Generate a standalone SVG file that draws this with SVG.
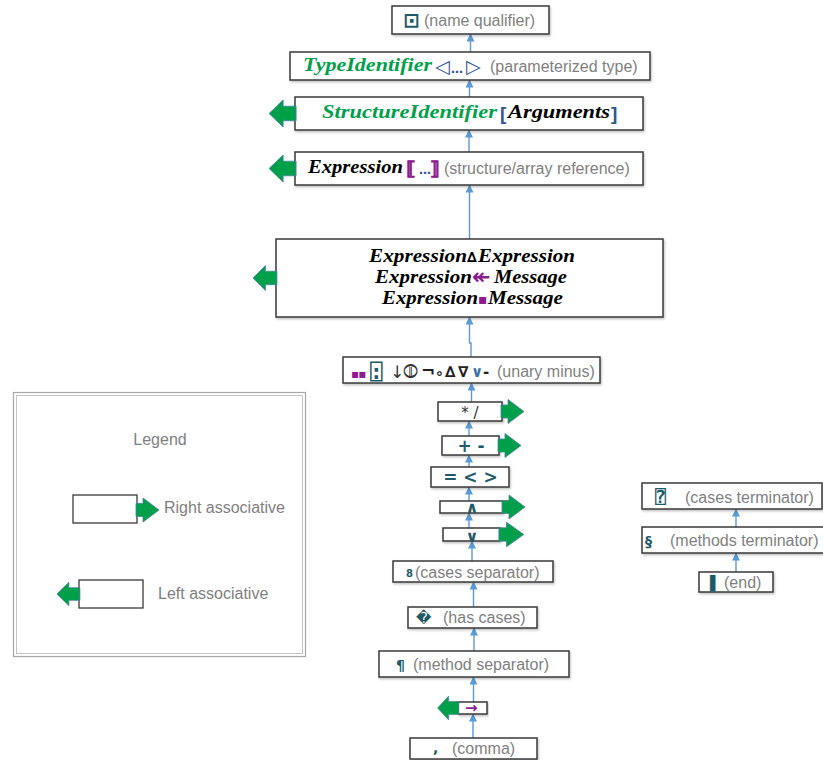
<svg xmlns="http://www.w3.org/2000/svg" width="823" height="760" viewBox="0 0 823 760">
<style>
.box{fill:#fff;stroke:#3a3a3a;stroke-width:1.5;filter:url(#sh)}
.lbl{font-family:"Liberation Sans",Arial,sans-serif;font-size:16px;fill:#7f7f7f}
.scr{font-family:"Liberation Serif","Times New Roman",serif;font-weight:bold;font-style:italic;font-size:19px;fill:#000}
.grn{fill:#00a04a}
.sym{font-family:"DejaVu Sans",sans-serif;fill:#1f5a6a}
.apl{font-family:"DejaVu Sans Mono","DejaVu Sans",monospace;fill:#1f5a6a}
.pur{fill:#8e1c8e}
.blu{fill:#2f5597}
.con{stroke:#5b9bd5;stroke-width:1.4;fill:none;marker-end:url(#ah)}
.ga{fill:#00a04a;stroke:#4a7fa0;stroke-width:0.8}
</style>
<defs>
<filter id="sh" x="-5%" y="-20%" width="110%" height="150%">
<feDropShadow dx="1" dy="1.5" stdDeviation="1" flood-color="#000" flood-opacity="0.25"/>
</filter>
<marker id="ah" markerWidth="8" markerHeight="8" refX="7.5" refY="4" orient="auto" markerUnits="userSpaceOnUse">
<path d="M0,0 L8,4 L0,8 Z" fill="#5b9bd5"/>
</marker>
<path id="aL" d="M1,-7 H-11 V-13 L-24,0 L-11,13 V7 H1 Z"/>
<path id="aR" d="M-1,-6.5 H6 V-12 L22,0 L6,12 V6.5 H-1 Z"/>
</defs>

<!-- Legend -->
<g id="legend">
<rect x="13.5" y="392.5" width="292" height="264" fill="#fff" stroke="#a8a8a8" stroke-width="1.2"/>
<rect x="16.5" y="395.5" width="286" height="258" fill="none" stroke="#c4c4c4" stroke-width="1"/>
<text class="lbl" x="160" y="445" text-anchor="middle">Legend</text>
<rect x="73" y="495" width="64" height="28" fill="#fff" stroke="#3a3a3a" stroke-width="1.3"/>
<use href="#aR" class="ga" transform="translate(137,510)"/>
<text class="lbl" x="164" y="513">Right associative</text>
<rect x="79" y="580" width="64" height="28" fill="#fff" stroke="#3a3a3a" stroke-width="1.3"/>
<use href="#aL" class="ga" transform="translate(79,594) scale(0.92,0.9)"/>
<text class="lbl" x="158" y="599">Left associative</text>
</g>

<!-- Connectors -->
<g id="connectors">
<path class="con" d="M470.5,52 V34"/>
<path class="con" d="M469.5,97 V80"/>
<path class="con" d="M469,152 V130"/>
<path class="con" d="M469.5,239 V185"/>
<path class="con" d="M471,357 V343 H469.5 V317"/>
<path class="con" d="M471.5,402 V383"/>
<path class="con" d="M469,436 V421"/>
<path class="con" d="M469,467 V455"/>
<path class="con" d="M469,501 V487"/>
<path class="con" d="M469,528 V513"/>
<path class="con" d="M472,561 V541"/>
<path class="con" d="M473.5,607 V582"/>
<path class="con" d="M474,651 V628"/>
<path class="con" d="M473.5,702 V677"/>
<path class="con" d="M473,738 V714"/>
<path class="con" d="M736,527 V509"/>
<path class="con" d="M736,572 V553"/>
</g>

<!-- Nodes -->
<g id="n-name-qualifier">
<rect class="box" x="392" y="6" width="157" height="28"/>
<text class="sym" x="403" y="27" font-size="20" font-weight="bold">⊡</text>
<text class="lbl" x="424" y="25.5">(name qualifier)</text>
</g>

<g id="n-type-identifier">
<rect class="box" x="290" y="52" width="360" height="28"/>
<text class="scr grn" x="303" y="71" textLength="129" lengthAdjust="spacingAndGlyphs">TypeIdentifier</text>
<text class="blu" x="435" y="73" font-family="DejaVu Sans,sans-serif" font-size="19">◁</text>
<text class="blu" x="451" y="73" font-family="DejaVu Sans,sans-serif" font-size="12" font-weight="bold">…</text>
<text class="blu" x="466" y="73" font-family="DejaVu Sans,sans-serif" font-size="19">▷</text>
<text class="lbl" x="490" y="72">(parameterized type)</text>
</g>

<g id="n-structure-identifier">
<rect class="box" x="295" y="97" width="348" height="33"/>
<use href="#aL" class="ga" transform="translate(295,113.5) scale(1.08,1.04)"/>
<text class="scr grn" x="322" y="118" textLength="175" lengthAdjust="spacingAndGlyphs">StructureIdentifier</text>
<text class="blu" x="500" y="120" font-family="Liberation Sans,sans-serif" font-size="19" font-weight="bold">[</text>
<text class="scr" x="508" y="118" textLength="102" lengthAdjust="spacingAndGlyphs">Arguments</text>
<text class="blu" x="611" y="120" font-family="Liberation Sans,sans-serif" font-size="19" font-weight="bold">]</text>
</g>

<g id="n-expression-ref">
<rect class="box" x="295" y="152" width="348" height="33"/>
<use href="#aL" class="ga" transform="translate(295,168.5) scale(1.08,1.04)"/>
<text class="scr" x="308" y="173" textLength="95" lengthAdjust="spacingAndGlyphs">Expression</text>
<text class="pur" x="406" y="175" font-family="DejaVu Sans,sans-serif" font-size="19" font-weight="bold" stroke="#8e1c8e" stroke-width="1">⟦</text>
<text class="blu" x="419" y="174" font-family="DejaVu Sans,sans-serif" font-size="12" font-weight="bold">…</text>
<text class="pur" x="430" y="175" font-family="DejaVu Sans,sans-serif" font-size="19" font-weight="bold" stroke="#8e1c8e" stroke-width="1">⟧</text>
<text class="lbl" x="444" y="174">(structure/array reference)</text>
</g>

<g id="n-binary-expression">
<rect class="box" x="276" y="239" width="387" height="78"/>
<use href="#aL" class="ga" transform="translate(276,278) scale(0.96,0.96)"/>
<text class="scr" x="369" y="262" textLength="98" lengthAdjust="spacingAndGlyphs">Expression</text>
<text x="467" y="262" font-family="DejaVu Sans,sans-serif" font-size="14" font-weight="bold" fill="#000">∆</text>
<text class="scr" x="478" y="262" textLength="97" lengthAdjust="spacingAndGlyphs">Expression</text>
<text class="scr" x="375" y="283" textLength="97" lengthAdjust="spacingAndGlyphs">Expression</text>
<text class="pur" x="472" y="284" font-family="DejaVu Sans,sans-serif" font-size="22" font-weight="bold">↞</text>
<text class="scr" x="494" y="283" textLength="73" lengthAdjust="spacingAndGlyphs">Message</text>
<text class="scr" x="382" y="304" textLength="96" lengthAdjust="spacingAndGlyphs">Expression</text>
<text class="pur" x="478" y="304" font-family="DejaVu Sans,sans-serif" font-size="14">▪</text>
<text class="scr" x="488" y="304" textLength="75" lengthAdjust="spacingAndGlyphs">Message</text>
</g>

<g id="n-unary">
<rect class="box" x="343" y="357" width="257" height="26"/>
<text class="pur" x="351" y="378" font-family="DejaVu Sans,sans-serif" font-size="12" letter-spacing="-1">▪▪</text>
<text class="apl" x="370" y="379" font-size="21" font-weight="bold" fill="#222">⍠</text>
<text x="390" y="378" font-family="DejaVu Sans,sans-serif" font-size="17" fill="#333">↓</text>
<text x="403" y="378" font-family="DejaVu Sans,sans-serif" font-size="19" fill="#333">⦷</text>
<text x="421" y="377" font-family="DejaVu Sans,sans-serif" font-size="17" font-weight="bold" fill="#222">¬</text>
<text x="435" y="378" font-family="DejaVu Sans,sans-serif" font-size="14" font-weight="bold" fill="#222">∘</text>
<text x="445" y="377" font-family="DejaVu Sans,sans-serif" font-size="15" font-weight="bold" fill="#222">∆</text>
<text x="458" y="377" font-family="DejaVu Sans,sans-serif" font-size="15" font-weight="bold" fill="#222">∇</text>
<text x="471" y="377" font-family="DejaVu Sans,sans-serif" font-size="15" font-weight="bold" fill="#3a6fb0">∨</text>
<text x="483" y="377" font-family="DejaVu Sans,sans-serif" font-size="15" font-weight="bold" fill="#222">-</text>
<text class="lbl" x="497" y="377">(unary minus)</text>
</g>

<g id="n-mul">
<rect class="box" x="438" y="402" width="64" height="19"/>
<use href="#aR" class="ga" transform="translate(502,411.5)"/>
<text x="470" y="418" text-anchor="middle" font-family="DejaVu Sans,sans-serif" font-size="15" fill="#333">*  /</text>
</g>

<g id="n-add">
<rect class="box" x="442" y="436" width="57" height="19"/>
<use href="#aR" class="ga" transform="translate(499,445.5)"/>
<text class="sym" x="471" y="452" text-anchor="middle" font-size="17" font-weight="bold">+ -</text>
</g>

<g id="n-compare">
<rect class="box" x="431" y="467" width="78" height="20"/>
<text class="sym" x="470.5" y="483" text-anchor="middle" font-size="17" font-weight="bold">= &lt; &gt;</text>
</g>

<g id="n-and">
<rect class="box" x="440" y="501" width="63" height="12"/>
<use href="#aR" class="ga" transform="translate(503,507)"/>
<text class="sym" x="472" y="513" text-anchor="middle" font-size="16" font-weight="bold">∧</text>
</g>

<g id="n-or">
<rect class="box" x="443" y="528" width="57" height="13"/>
<use href="#aR" class="ga" transform="translate(500,534.5) scale(1.08,1.02)"/>
<text class="sym" x="472" y="542" text-anchor="middle" font-size="16" font-weight="bold">∨</text>
</g>

<g id="n-cases-separator">
<rect class="box" x="393" y="561" width="160" height="21"/>
<text class="sym" x="406" y="577" font-size="10" font-weight="bold">8</text>
<text class="lbl" x="415" y="577.5">(cases separator)</text>
</g>

<g id="n-has-cases">
<rect class="box" x="408" y="607" width="129" height="21"/>
<text class="sym" x="416" y="623" font-size="15">�</text>
<text class="lbl" x="443" y="623">(has cases)</text>
</g>

<g id="n-method-separator">
<rect class="box" x="379" y="651" width="190" height="26"/>
<text class="sym" x="396" y="670" font-size="14" font-weight="bold">¶</text>
<text class="lbl" x="413" y="669.5">(method separator)</text>
</g>

<g id="n-arrow-op">
<rect class="box" x="458" y="702" width="29" height="12"/>
<use href="#aL" class="ga" transform="translate(458,708) scale(0.85,0.92)"/>
<text class="pur" x="465" y="713" font-family="DejaVu Sans,sans-serif" font-size="15" font-weight="bold">→</text>
</g>

<g id="n-comma">
<rect class="box" x="410" y="738" width="127" height="21"/>
<text class="sym" x="433" y="753" font-size="14" font-weight="bold">,</text>
<text class="lbl" x="452" y="754">(comma)</text>
</g>

<g id="n-cases-terminator">
<rect class="box" x="642" y="483" width="180" height="26"/>
<text class="apl" x="655" y="503" font-size="18" font-weight="bold">⍰</text>
<text class="lbl" x="685" y="502.5">(cases terminator)</text>
</g>

<g id="n-methods-terminator">
<rect class="box" x="642" y="527" width="184" height="26"/>
<text class="sym" x="645" y="546" font-size="14" font-weight="bold">§</text>
<text class="lbl" x="670" y="546">(methods terminator)</text>
</g>

<g id="n-end">
<rect class="box" x="699" y="572" width="74" height="20"/>
<text class="sym" x="710" y="588" font-size="14">▌</text>
<text class="lbl" x="724" y="588">(end)</text>
</g>
</svg>
